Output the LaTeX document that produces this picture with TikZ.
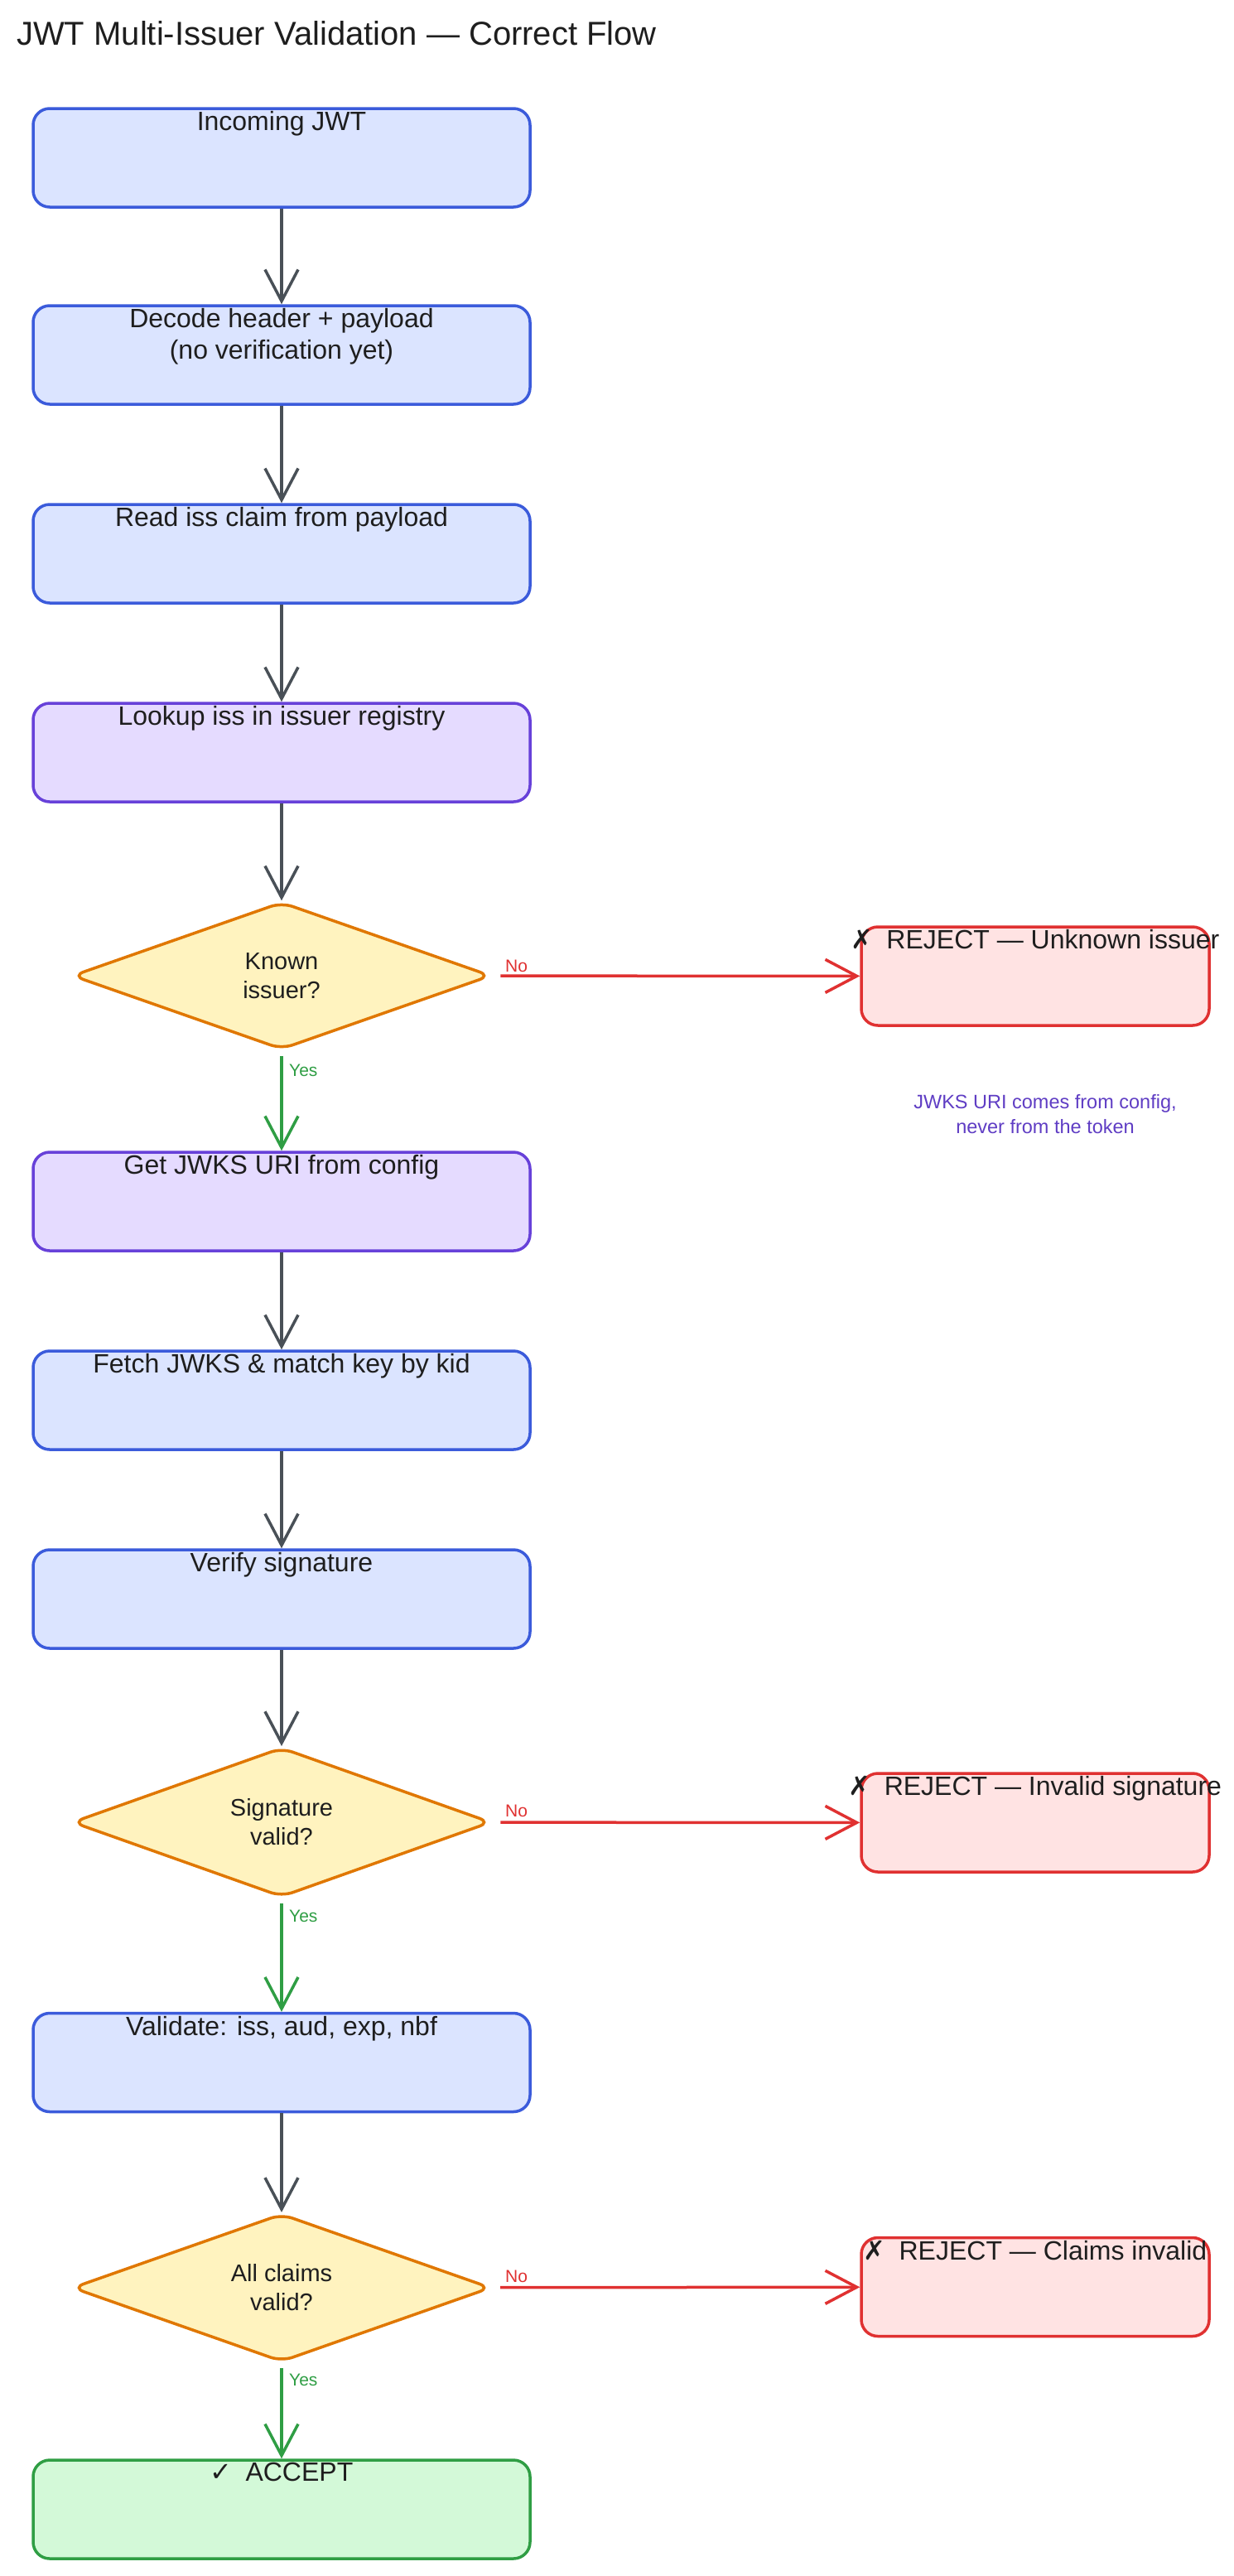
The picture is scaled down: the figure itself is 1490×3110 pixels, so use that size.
\documentclass[tikz,border=0pt]{standalone}
\usepackage{fontspec}
\setmainfont{Liberation Sans}
\newfontfamily\symfont{DejaVu Sans}
\usetikzlibrary{arrows.meta,shapes.geometric}
\definecolor{ink}{HTML}{1E1E1E}
\definecolor{bluebd}{HTML}{3B5BDB}
\definecolor{bluebg}{HTML}{DBE4FF}
\definecolor{purpbd}{HTML}{6741D9}
\definecolor{purpbg}{HTML}{E5DBFF}
\definecolor{orgbd}{HTML}{E07700}
\definecolor{orgbg}{HTML}{FFF3BF}
\definecolor{redbd}{HTML}{E03131}
\definecolor{redbg}{HTML}{FFE3E3}
\definecolor{grnbd}{HTML}{2F9E44}
\definecolor{grnbg}{HTML}{D3F9D8}
\definecolor{edgegray}{HTML}{495057}
\definecolor{notecol}{HTML}{5F3DC4}
\begin{document}
\begin{tikzpicture}[x=1pt,y=-1pt,
  toplbl/.style={anchor=north,yshift=-5pt,inner sep=0pt,align=center,text=ink,font=\fontsize{32}{38}\selectfont},
  box/.style={draw,rounded corners=20pt,line width=3.5pt,minimum width=600pt,minimum height=119pt,inner sep=0pt},
  bluebox/.style={box,draw=bluebd,fill=bluebg},
  purpbox/.style={box,draw=purpbd,fill=purpbg},
  redbox/.style={box,draw=redbd,fill=redbg,minimum width=420pt},
  grnbox/.style={box,draw=grnbd,fill=grnbg},
  decision/.style={diamond,draw=orgbd,fill=orgbg,line width=3.5pt,rounded corners=14pt,minimum width=506pt,minimum height=178pt,inner sep=0pt,align=center,text=ink,font=\fontsize{29}{35}\selectfont},
  flow/.style={draw=edgegray,line width=3.5pt,-{Straight Barb[length=38pt,width=40pt,line width=3.5pt]}},
  yesflow/.style={flow,draw=grnbd},
  noflow/.style={flow,draw=redbd,shorten <=10pt},
  yeslbl/.style={text=grnbd,font=\fontsize{21}{24}\selectfont,inner sep=0pt},
  nolbl/.style={text=redbd,font=\fontsize{21}{24}\selectfont,inner sep=0pt},
]
\useasboundingbox[fill=white] (0,0) rectangle (1490,3110);

\node[anchor=west,text=ink,font=\fontsize{40}{46}\selectfont,inner sep=0pt] (title) at (20,40) {JWT Multi-Issuer Validation — Correct Flow};

\node[bluebox,label={[toplbl]north:Incoming JWT}] (b1) at (340,190.5) {};
\node[bluebox,label={[toplbl]north:Decode header + payload\\(no verification yet)}] (b2) at (340,428.5) {};
\node[bluebox,label={[toplbl]north:Read iss claim from payload}] (b3) at (340,668.5) {};
\node[purpbox,label={[toplbl]north:Lookup iss in issuer registry}] (b4) at (340,908.5) {};
\node[decision] (d1) at (340,1178) {Known\\issuer?};
\node[redbox,label={[toplbl]north:{\symfont ✗}\enspace REJECT — Unknown issuer}] (r1) at (1250,1178.5) {};
\node[text=notecol,align=center,font=\fontsize{23.5}{30}\selectfont,inner sep=0pt] (note) at (1262,1345) {JWKS URI comes from config,\\never from the token};
\node[purpbox,label={[toplbl]north:Get JWKS URI from config}] (b5) at (340,1450.5) {};
\node[bluebox,label={[toplbl]north:Fetch JWKS \& match key by kid}] (b6) at (340,1690.5) {};
\node[bluebox,label={[toplbl]north:Verify signature}] (b7) at (340,1930.5) {};
\node[decision] (d2) at (340,2200) {Signature\\valid?};
\node[redbox,label={[toplbl]north:{\symfont ✗}\enspace REJECT — Invalid signature}] (r2) at (1250,2200.5) {};
\node[bluebox,label={[toplbl]north:Validate: iss, aud, exp, nbf}] (b8) at (340,2490) {};
\node[decision] (d3) at (340,2762) {All claims\\valid?};
\node[redbox,label={[toplbl]north:{\symfont ✗}\enspace REJECT — Claims invalid}] (r3) at (1250,2761) {};
\node[grnbox,label={[toplbl]north:{\symfont ✓}\enspace ACCEPT}] (acc) at (340,3029.5) {};

\draw[flow] (b1) -- (b2);
\draw[flow] (b2) -- (b3);
\draw[flow] (b3) -- (b4);
\draw[flow] (b4) -- (d1);
\draw[noflow] (d1) -- (r1);
\draw[yesflow,shorten <=6pt] (d1) -- (b5);
\draw[flow] (b5) -- (b6);
\draw[flow] (b6) -- (b7);
\draw[flow] (b7) -- (d2);
\draw[noflow] (d2) -- (r2);
\draw[yesflow,shorten <=6pt] (d2) -- (b8);
\draw[flow] (b8) -- (d3);
\draw[noflow] (d3) -- (r3);
\draw[yesflow,shorten <=6pt] (d3) -- (acc);

\node[nolbl,anchor=west] (no1) at (610,1166) {No};
\node[nolbl,anchor=west] (no2) at (610,2186) {No};
\node[nolbl,anchor=west] (no3) at (610,2748) {No};
\node[yeslbl,anchor=west] (yes1) at (349,1292) {Yes};
\node[yeslbl,anchor=west] (yes2) at (349,2313) {Yes};
\node[yeslbl,anchor=west] (yes3) at (349,2873) {Yes};
\end{tikzpicture}
\end{document}
